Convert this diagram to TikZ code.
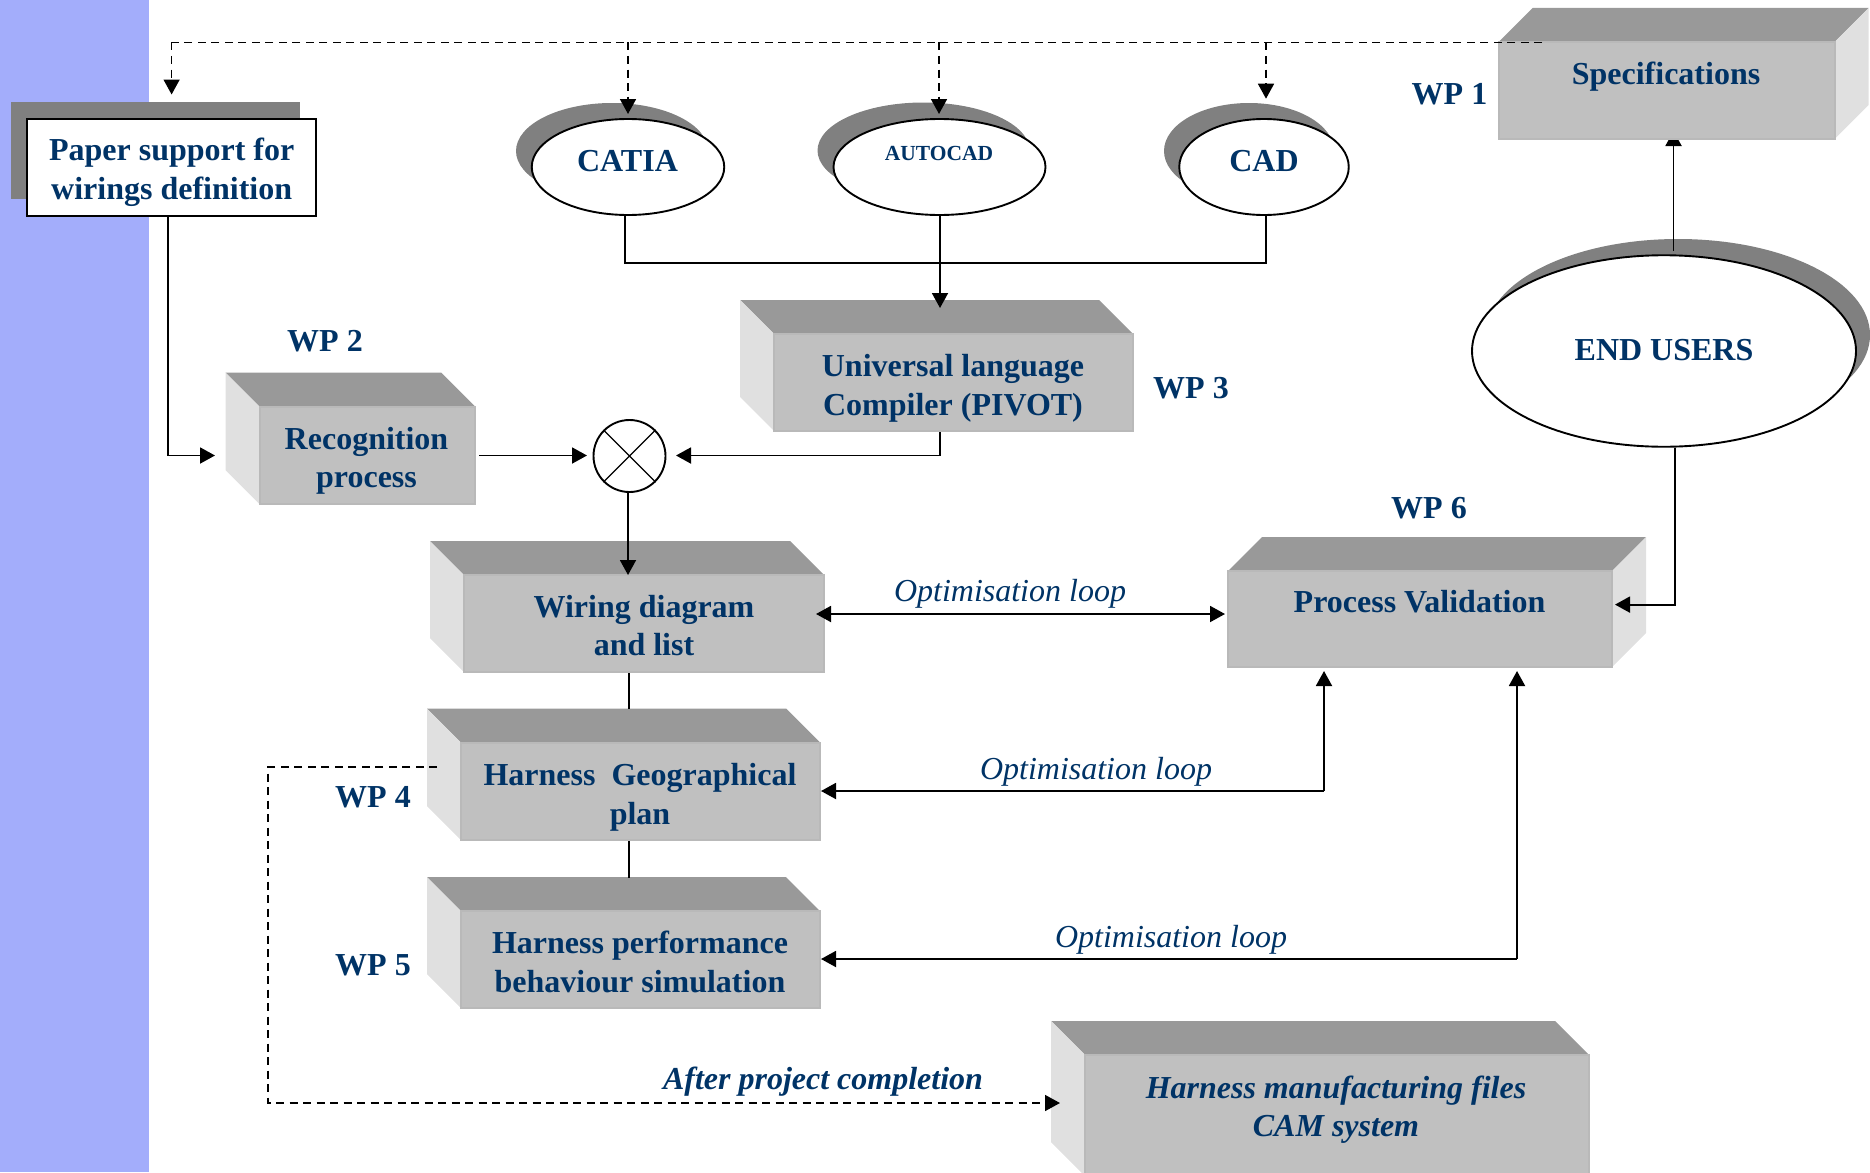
\documentclass[tikz,border=0pt]{standalone}
\usepackage{fontspec}
\setmainfont{Liberation Serif}
\usetikzlibrary{arrows.meta,shapes.geometric,backgrounds}
\definecolor{navy}{HTML}{003366}
\definecolor{bandblue}{HTML}{A3ADFB}
\definecolor{shadowgrey}{HTML}{808080}
\definecolor{facefront}{HTML}{C0C0C0}
\definecolor{faceedge}{HTML}{B9B9B9}
\definecolor{facetop}{HTML}{999999}
\definecolor{faceside}{HTML}{E0E0E0}
\tikzset{
  x=1pt,y=-1pt,
  wire/.style={draw=black,line width=1.9pt},
  arrowed/.style={wire,-{Triangle[length=15pt,width=16pt]}},
  twoway/.style={wire,{Triangle[length=15pt,width=16pt]}-{Triangle[length=15pt,width=16pt]}},
  dashwire/.style={draw=black,line width=1.6pt,dash pattern=on 8pt off 5.5pt},
  dasharrow/.style={dashwire,-{Triangle[length=15pt,width=16pt]}},
  front/.style={fill=facefront,draw=faceedge,line width=2pt,inner sep=0pt,rectangle},
  lab/.style={text=navy,inner sep=0pt,align=center,font=\fontsize{32}{38.5}\selectfont\bfseries},
  ilab/.style={text=navy,inner sep=0pt,align=center,font=\fontsize{32}{38.5}\selectfont\bfseries\itshape},
  loop/.style={text=navy,inner sep=0pt,font=\fontsize{32}{38.5}\selectfont\itshape},
  oval/.style={ellipse,draw=black,line width=1.9pt,fill=white,inner sep=0pt},
}
% cube seen with its left face showing: name, front x1,y1,x2,y2
\newcommand{\cubeLeft}[5]{%
  \fill[facetop] (#2,#3)--(#2-34,#3-34)--(#4-34,#3-34)--(#4,#3)--cycle;
  \fill[faceside] (#2,#3)--(#2-34,#3-34)--(#2-34,#5-34)--(#2,#5)--cycle;
  \node[front,minimum width={(#4-#2)*1pt},minimum height={(#5-#3)*1pt}] (#1) at ({(#2+#4)/2},{(#3+#5)/2}) {};
}
% cube seen with its right face showing
\newcommand{\cubeRight}[5]{%
  \fill[facetop] (#2,#3)--(#2+34,#3-34)--(#4+34,#3-34)--(#4,#3)--cycle;
  \fill[faceside] (#4,#3)--(#4+34,#3-34)--(#4+34,#5-34)--(#4,#5)--cycle;
  \node[front,minimum width={(#4-#2)*1pt},minimum height={(#5-#3)*1pt}] (#1) at ({(#2+#4)/2},{(#3+#5)/2}) {};
}
\begin{document}
\begin{tikzpicture}
\useasboundingbox (0,0) rectangle (1870,1172);
\clip (0,0) rectangle (1870,1172);
\fill[bandblue] (0,0) rectangle (149,1172);

% paper
\fill[shadowgrey] (11,102) rectangle (300,199);
\node[rectangle,draw=black,line width=2pt,fill=white,minimum width=288.5pt,minimum height=97pt,inner sep=0pt] (paper) at (171.7,167) {};
\node[lab] (tpaper) at (171.7,172.5) {Paper support for\\wirings definition};

% ovals
\fill[shadowgrey] (612,151) ellipse [x radius=96,y radius=48];
\node[oval,minimum width=192.5pt,minimum height=96pt] (catia) at (628,167) {};
\node[lab] (tcatia) at (627.5,161) {CATIA};
\fill[shadowgrey] (923.5,150.5) ellipse [x radius=106,y radius=48];
\node[oval,minimum width=212pt,minimum height=96pt] (autocad) at (939.5,167) {};
\node[lab,font=\fontsize{21.5}{26}\selectfont\bfseries] (tautocad) at (939,153) {AUTOCAD};
\fill[shadowgrey] (1249,151) ellipse [x radius=85,y radius=48];
\node[oval,minimum width=169.5pt,minimum height=96pt] (cad) at (1264,167) {};
\node[lab] (tcad) at (1264,161) {CAD};

% end users
\fill[shadowgrey] (1678,335) ellipse [x radius=192,y radius=96];
\node[oval,minimum width=384pt,minimum height=191.5pt] (eu) at (1664,351) {};
\node[lab] (teu) at (1664,350) {END USERS};
\coordinate (euOut) at (1673.5,250.7);
\coordinate (specIn) at (1673.5,131);
\draw[arrowed] (euOut) -- (specIn);

% cubes
\cubeRight{spec}{1498.5}{42}{1834.5}{139}
\node[lab] (tspec) at (1666,77) {Specifications};
\cubeLeft{uni}{774}{334}{1133}{431}
\node[lab] (tuni) at (953,388.5) {Universal language\\Compiler (PIVOT)};
\cubeLeft{reco}{259.5}{406.5}{475}{504}
\node[lab] (treco) at (366.5,461) {Recognition\\process};
\cubeLeft{wiring}{464}{575}{824}{672}
\node[lab] (twiring) at (644,625.5) {Wiring diagram\\and list};
\cubeRight{pv}{1228}{571}{1612}{667}
\node[lab] (tpv) at (1419.5,602) {Process Validation};
\cubeLeft{geo}{461}{742.5}{820}{840}
\node[lab] (tgeo) at (640,797.5) {Harness~~Geographical\\plan};
\cubeLeft{perf}{461}{911}{820}{1008}
\node[lab] (tperf) at (640,962) {Harness performance\\behaviour simulation};
\cubeLeft{cam}{1085}{1055}{1589}{1176}
\node[ilab] (tcam) at (1336,1109.5) {Harness manufacturing files\\CAM system};

% junction
\node[oval,minimum width=72pt,minimum height=72pt] (junc) at (629.5,456) {};
\draw[line width=1.3pt] (junc.45) -- (junc.225) (junc.135) -- (junc.315);

% WP labels
\node[lab] (wp1) at (1449.5,94) {WP 1};
\node[lab] (wp2) at (325,341) {WP 2};
\node[lab] (wp3) at (1191,388) {WP 3};
\node[lab] (wp4) at (373,797) {WP 4};
\node[lab] (wp5) at (373,965) {WP 5};
\node[lab] (wp6) at (1429,508) {WP 6};

% loop labels
\node[loop] (loop1) at (1010,593.5) {Optimisation loop};
\node[loop] (loop2) at (1096,771.5) {Optimisation loop};
\node[loop] (loop3) at (1171,939.5) {Optimisation loop};
\node[ilab] (after) at (823,1081.5) {After project completion};

% connector helper points
\coordinate (dashEnd) at (1542,42.5);
\coordinate (dashPaper) at (171.6,42.5);
\coordinate (tipPaper) at (171.6,94.5);
\coordinate (dashCatia) at (628,42.5);
\coordinate (tipCatia) at (628,114);
\coordinate (dashAuto) at (939,42.5);
\coordinate (tipAuto) at (939,114);
\coordinate (dashCad) at (1266,42.5);
\coordinate (tipCad) at (1266,98.7);
\coordinate (busL) at (625,263);
\coordinate (busR) at (1266,263);
\coordinate (busM) at (940,263);
\coordinate (tipUni) at (940,308);
\coordinate (paperOut) at (167.6,215.5);
\coordinate (paperBend) at (167.6,455.5);
\coordinate (tipReco) at (215,455.5);
\coordinate (recoOut) at (479,455.5);
\coordinate (tipJuncL) at (587,455.5);
\coordinate (uniBend) at (940,455.5);
\coordinate (tipJuncR) at (676,455.5);
\coordinate (tipWiring) at (628,575);
\coordinate (wL) at (816,614);
\coordinate (wR) at (1225,614);
\coordinate (euIn) at (1675,604.6);
\coordinate (tipPv) at (1615,604.6);
\coordinate (gL) at (821,791);
\coordinate (gB) at (1324,791);
\coordinate (gT) at (1324,671);
\coordinate (pL) at (821,959);
\coordinate (pB) at (1517,959);
\coordinate (pT) at (1517,671);
\coordinate (dS) at (437,767);
\coordinate (dA) at (268,767);
\coordinate (dB) at (268,1103);
\coordinate (dE) at (1060,1103);
\coordinate (geoTop) at (629,709);
\coordinate (perfTop) at (629,877.5);

% dashed bus
\draw[dashwire] (dashEnd) -- (dashPaper);
\draw[dasharrow] (dashPaper) -- (tipPaper);
\draw[dasharrow] (dashCatia) -- (tipCatia);
\draw[dasharrow] (dashAuto) -- (tipAuto);
\draw[dasharrow] (dashCad) -- (tipCad);
% solid
\draw[wire] (catia.south -| busL) -- (busL) -- (busR) -- (cad.south -| busR);
\draw[arrowed] (autocad.south -| busM) -- (tipUni);
\draw[arrowed] (paperOut) -- (paperBend) -- (tipReco);
\draw[arrowed] (recoOut) -- (tipJuncL);
\draw[arrowed] (uni.south -| uniBend) -- (uniBend) -- (tipJuncR);
\draw[arrowed] (junc.south -| tipWiring) -- (tipWiring);
\draw[twoway] (wL) -- (wR);
\draw[arrowed] (eu.south -| euIn) -- (euIn) -- (tipPv);
\draw[arrowed] (gB) -- (gL);
\draw[arrowed] (gB) -- (gT);
\draw[arrowed] (pB) -- (pL);
\draw[arrowed] (pB) -- (pT);
\draw[wire] (wiring.south -| geoTop) -- (geoTop);
\draw[wire] (geo.south -| perfTop) -- (perfTop);
\draw[dasharrow] (dS) -- (dA) -- (dB) -- (dE);
\end{tikzpicture}
\end{document}
